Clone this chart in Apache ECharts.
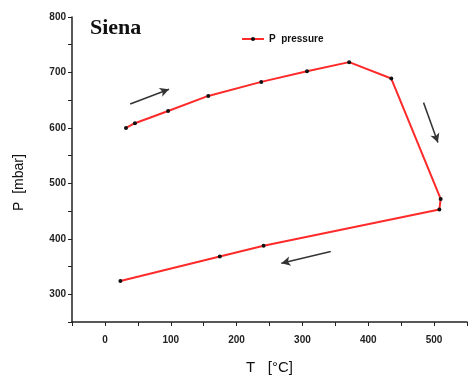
<!DOCTYPE html>
<html>
<head>
<meta charset="utf-8">
<script src="https://cdn.jsdelivr.net/npm/echarts@6/dist/echarts.min.js"></script>
<style>
html,body{margin:0;padding:0;background:#fff;}
#chart{width:470px;height:380px;}
</style>
</head>
<body>
<div id="chart"></div>
<script>
// Data
const temperature = [32, 45.6, 96, 157, 237.5, 307, 371, 435, 510, 508, 241, 174.5, 23.5];
const pressure = [600, 608.5, 630.6, 657.7, 683, 702, 718.6, 689, 472, 453, 387.4, 368, 324];
// Direction arrows (annotation), [T, P] start and end
const arrowHeat = [[38.4, 643], [97.3, 669.7]];
const arrowDrop = [[484, 645.6], [505.8, 573.5]];
const arrowCool = [[343, 377], [268, 356]];

const chart = echarts.init(document.getElementById('chart'));
const seriesData = temperature.map((t, i) => [t, pressure[i]]);
const arrowLine = a => [{coord: a[0]}, {coord: a[1]}];

chart.setOption({
  animation: false,
  backgroundColor: '#ffffff',
  title: {
    text: 'Siena',
    left: 85, top: 12,
    textStyle: {fontFamily: 'Liberation Serif', fontWeight: 'bold', fontSize: 22, color: '#111'}
  },
  legend: {
    left: 236, top: 29,
    itemWidth: 22, itemHeight: 5, itemGap: 4,
    textStyle: {fontFamily: 'Liberation Sans', fontWeight: 'bold', fontSize: 10, color: '#111'},
    data: ['P  pressure']
  },
  grid: {left: 72, top: 17, width: 400, height: 306},
  xAxis: {
    type: 'value', min: -50, max: 550, interval: 50,
    name: 'T   [°C]', nameLocation: 'middle', nameGap: 38,
    nameTextStyle: {fontFamily: 'Liberation Sans', fontSize: 15, color: '#111'},
    axisLine: {show: true, onZero: false, lineStyle: {color: '#222', width: 1.5}},
    axisTick: {show: true, inside: false, length: 4, lineStyle: {color: '#222'}},
    splitLine: {show: false},
    axisLabel: {
      fontFamily: 'Liberation Sans', fontWeight: 'bold', fontSize: 10, color: '#222', margin: 13,
      formatter: v => (v >= 0 && v % 100 === 0 ? String(v) : '')
    }
  },
  yAxis: {
    type: 'value', min: 250, max: 800, interval: 50,
    name: 'P  [mbar]', nameLocation: 'middle', nameGap: 46, nameRotate: 90,
    nameTextStyle: {fontFamily: 'Liberation Sans', fontSize: 14, color: '#111', padding: [0, 26, 0, 0]},
    axisLine: {show: true, onZero: false, lineStyle: {color: '#222', width: 1.5}},
    axisTick: {show: true, inside: false, length: 4, lineStyle: {color: '#222'}},
    splitLine: {show: false},
    axisLabel: {
      fontFamily: 'Liberation Sans', fontWeight: 'bold', fontSize: 10, color: '#222', margin: 6,
      formatter: v => (v % 100 === 0 ? String(v) : '')
    }
  },
  series: [{
    name: 'P  pressure',
    type: 'line',
    data: seriesData,
    symbol: 'circle', symbolSize: 4,
    itemStyle: {color: '#111'},
    lineStyle: {color: '#ff2a2a', width: 2},
    markLine: {
      silent: true,
      symbol: ['none', 'arrow'], symbolSize: [7, 9],
      label: {show: false},
      lineStyle: {color: '#333', width: 1.5, type: 'solid'},
      data: [arrowLine(arrowHeat), arrowLine(arrowDrop), arrowLine(arrowCool)]
    }
  }]
});
</script>
</body>
</html>
